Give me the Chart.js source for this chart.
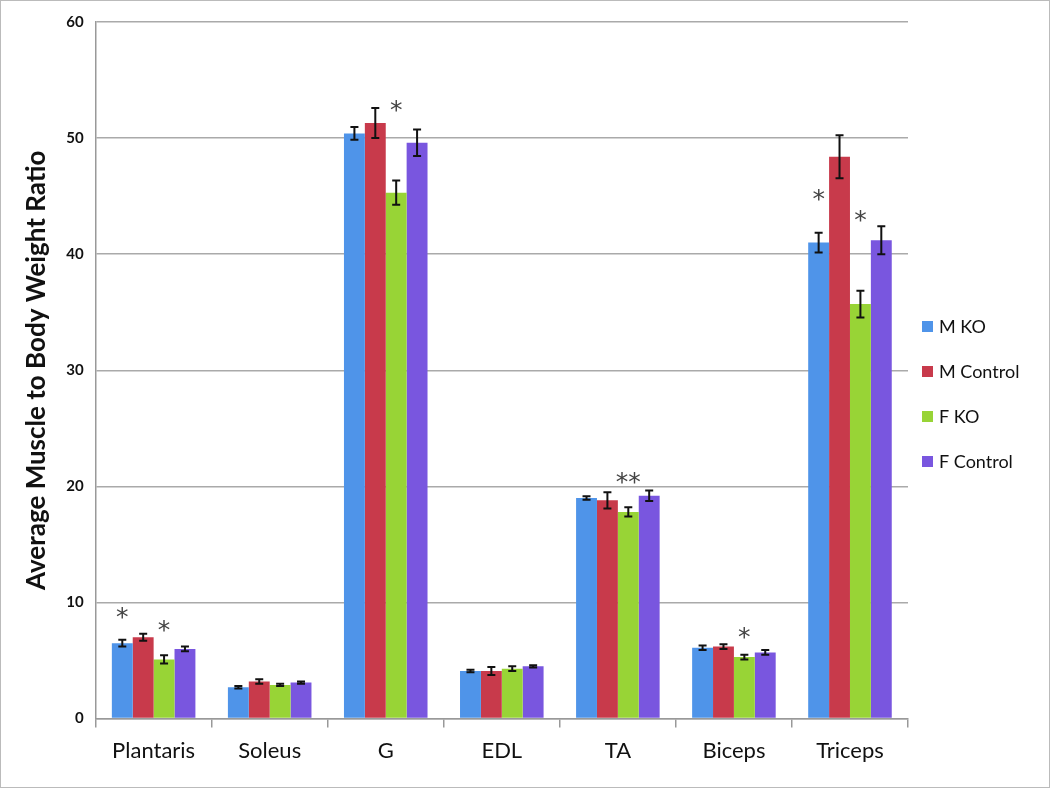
<!DOCTYPE html>
<html>
<head>
<meta charset="utf-8">
<script src="https://cdn.jsdelivr.net/npm/chart.js@4"></script>
<style>
  body { margin: 0; background: #fff; }
  #wrap { width: 1050px; height: 788px; box-sizing: border-box; border: 1px solid #bbb; }
</style>
</head>
<body>
<div id="wrap"><canvas id="myChart" width="1048" height="786"></canvas></div>
<script>
    const muscles = ['Plantaris', 'Soleus', 'G', 'EDL', 'TA', 'Biceps', 'Triceps'];
    const seriesNames = ['M KO', 'M Control', 'F KO', 'F Control'];
    const seriesColors = ['#4f94e9', '#c83a4b', '#98d436', '#7956df'];

    const mKO      = [6.5, 2.7, 50.4, 4.1, 19.0, 6.1, 41.0];
    const mControl = [7.0, 3.2, 51.3, 4.1, 18.8, 6.2, 48.4];
    const fKO      = [5.1, 2.9, 45.3, 4.3, 17.8, 5.3, 35.7];
    const fControl = [6.0, 3.1, 49.6, 4.5, 19.2, 5.7, 41.2];

    const mKOErr      = [0.3, 0.1, 0.55, 0.1, 0.15, 0.2, 0.85];
    const mControlErr = [0.3, 0.2, 1.3, 0.35, 0.7, 0.2, 1.85];
    const fKOErr      = [0.35, 0.1, 1.05, 0.2, 0.4, 0.2, 1.15];
    const fControlErr = [0.2, 0.1, 1.15, 0.1, 0.45, 0.2, 1.2];

    // significance marks: [category index, series index, text, y value]
    const marks = [
        [0, 0, '*', 9.1],
        [0, 2, '*', 8.0],
        [2, 2, '*', 52.8],
        [4, 2, '**', 20.8],
        [5, 2, '*', 7.4],
        [6, 0, '*', 45.1],
        [6, 2, '*', 43.3]
    ];

    const values = [mKO, mControl, fKO, fControl];
    const errors = [mKOErr, mControlErr, fKOErr, fControlErr];

    const errorBars = {
        id: 'errorBars',
        afterDatasetsDraw(chart) {
            const ctx = chart.ctx;
            const y = chart.scales.y;
            ctx.save();
            ctx.strokeStyle = '#111';
            ctx.lineWidth = 2;
            chart.data.datasets.forEach((ds, di) => {
                chart.getDatasetMeta(di).data.forEach((bar, i) => {
                    const v = values[di][i], e = errors[di][i];
                    const top = y.getPixelForValue(v + e);
                    const bot = y.getPixelForValue(v - e);
                    ctx.beginPath();
                    ctx.moveTo(bar.x, top); ctx.lineTo(bar.x, bot);
                    ctx.moveTo(bar.x - 4, top); ctx.lineTo(bar.x + 4, top);
                    ctx.moveTo(bar.x - 4, bot); ctx.lineTo(bar.x + 4, bot);
                    ctx.stroke();
                });
            });
            // asterisks
            ctx.fillStyle = '#444';
            ctx.font = '25px "DejaVu Sans"';
            ctx.textAlign = 'center';
            ctx.textBaseline = 'middle';
            marks.forEach(([ci, si, txt, val]) => {
                const bar = chart.getDatasetMeta(si).data[ci];
                ctx.fillText(txt, bar.x, y.getPixelForValue(val) + 6);
            });

            // legend on the right
            const area = chart.chartArea;
            ctx.font = '18px Lato';
            ctx.textAlign = 'left';
            ctx.fillStyle = '#111';
            seriesNames.forEach((name, i) => {
                const ly = 326 + i * 45;
                ctx.fillStyle = seriesColors[i];
                ctx.fillRect(area.right + 14, ly - 6, 11, 11);
                ctx.fillStyle = '#111';
                ctx.fillText(name, area.right + 31, ly);
            });
            ctx.restore();
        }
    };

    const ctx = document.getElementById('myChart').getContext('2d');
    const chart = new Chart(ctx, {
        type: 'bar',
        data: {
            labels: muscles,
            datasets: seriesNames.map((name, i) => ({
                label: name,
                data: values[i],
                backgroundColor: seriesColors[i],
                barPercentage: 1.0,
                categoryPercentage: 0.72
            }))
        },
        options: {
            responsive: false,
            animation: false,
            layout: { padding: { top: 20, right: 141, bottom: 13, left: 18 } },
            plugins: {
                legend: { display: false },
                tooltip: { enabled: false }
            },
            scales: {
                x: {
                    grid: { offset: true, drawOnChartArea: false, tickLength: 9, color: '#999', lineWidth: 1.5 },
                    border: { color: '#999', width: 1.5 },
                    ticks: { color: '#111', padding: 10, font: { family: 'Lato', size: 22 } }
                },
                y: {
                    min: 0,
                    max: 60,
                    ticks: { stepSize: 10, color: '#111', padding: 12, font: { family: 'Lato', size: 15, weight: 'bold' } },
                    grid: { color: '#aaa', lineWidth: 1.5, tickLength: 0 },
                    border: { color: '#999', width: 1.5 },
                    title: {
                        display: true,
                        text: 'Average Muscle to Body Weight Ratio',
                        color: '#111',
                        padding: 2,
                        font: { family: 'Lato', size: 26, weight: 'bold' }
                    }
                }
            }
        },
        plugins: [errorBars]
    });
</script>
</body>
</html>
